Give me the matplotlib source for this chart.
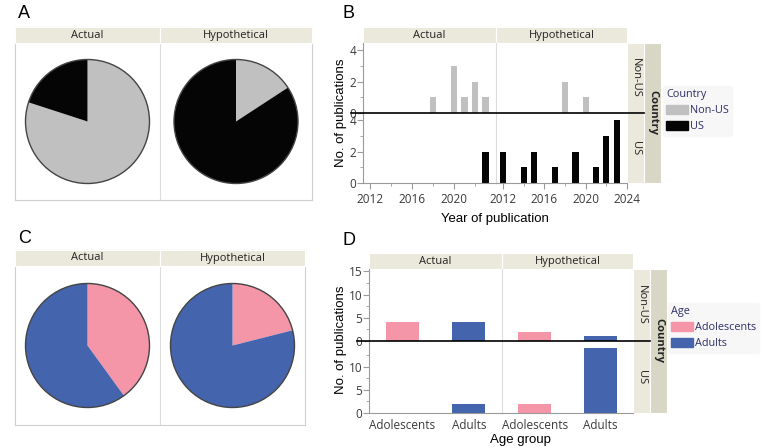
import matplotlib.pyplot as plt
from matplotlib.lines import Line2D
from matplotlib.patches import Circle, Patch

# Publications per year, by scenario and country
years_actual_nonus = [2018, 2020, 2021, 2022, 2023]
counts_actual_nonus = [1, 3, 1, 2, 1]
years_actual_us = [2023]
counts_actual_us = [2]
years_hyp_nonus = [2018, 2020]
counts_hyp_nonus = [2, 1]
years_hyp_us = [2012, 2014, 2015, 2017, 2019, 2021, 2022, 2023]
counts_hyp_us = [2, 1, 2, 1, 2, 1, 3, 4]

# Publications by age group (Adolescents, Adults)
age_groups = ["Adolescents", "Adults"]
age_actual_nonus = [4, 4]
age_actual_us = [0, 2]
age_hyp_nonus = [2, 1]
age_hyp_us = [2, 14]

scenarios = ["Actual", "Hypothetical"]
countries = ["Non-US", "US"]

GREY, BLACK = "#c0c0c0", "#050505"
PINK, BLUE = "#f495a8", "#4464ae"
STRIP, STRIP2 = "#ebe9dc", "#d8d6c4"
TICK_C = "#3a3a3a"
LEG_C = "#2e2f66"

plt.rcParams["font.family"] = ["Open Sans", "DejaVu Sans"]

W, H = 762, 448
fig = plt.figure(figsize=(W / 100, H / 100), dpi=100)


def box(x0, y0, x1, y1):
    return [x0 / W, 1 - y1 / H, (x1 - x0) / W, (y1 - y0) / H]


def strip(x0, y0, x1, y1, text, rot=0, bold=False, color=STRIP):
    ax = fig.add_axes(box(x0, y0, x1, y1))
    ax.set_facecolor(color)
    ax.set_xticks([])
    ax.set_yticks([])
    for s in ax.spines.values():
        s.set_color("white")
        s.set_linewidth(0.8)
    ax.text(0.5, 0.5, text, ha="center", va="center", rotation=rot,
            fontsize=8, fontweight="bold" if bold else "normal",
            color="#222222", transform=ax.transAxes)
    return ax


def pie_panel(x0, y0, x1, y1, xmid, values, colors):
    # frame
    frame = fig.add_axes(box(x0, y0, x1, y1))
    frame.set_xticks([])
    frame.set_yticks([])
    for s in frame.spines.values():
        s.set_color("#cfcfcf")
    strip(x0, y0, xmid, y0 + 16, scenarios[0])
    strip(xmid, y0, x1, y0 + 16, scenarios[1])
    for i, vals in enumerate(values):
        lx0, lx1 = (x0, xmid) if i == 0 else (xmid, x1)
        ax = fig.add_axes(box(lx0, y0 + 16, lx1, y1))
        ax.patch.set_alpha(0)
        ax.pie(vals, colors=colors, startangle=90, counterclock=False,
               radius=1, wedgeprops={"linewidth": 0})
        ax.add_patch(Circle((0, 0), 1, fill=False, edgecolor="#444444", lw=1))
        w = (lx1 - lx0) / 2 / 62
        h = (y1 - y0 - 16) / 2 / 62
        ax.set_xlim(-w, w)
        ax.set_ylim(-h, h)
        ax.set_aspect("equal")
        ax.axis("off")
        if i == 1:
            frame.plot([(xmid - x0) / (x1 - x0)] * 2, [0, 1], color="#dddddd",
                       lw=0.8, transform=frame.transAxes)


def facet_grid(left, right, top, bottom, draw, ylim, yticks, yminor,
               yticks_bottom):
    mid = (left + right) / 2 + 1
    ymid = (top + 16 + bottom) / 2
    strip(left, top, mid, top + 16, scenarios[0])
    strip(mid, top, right, top + 16, scenarios[1])
    strip(right, top + 16, right + 17, ymid, countries[0], rot=-90)
    strip(right, ymid, right + 17, bottom, countries[1], rot=-90)
    strip(right + 17, top + 16, right + 34, bottom, "Country", rot=-90,
          bold=True, color=STRIP2)
    for r, (ya, yb) in enumerate([(top + 16, ymid), (ymid, bottom)]):
        for c, (xa, xb) in enumerate([(left, mid), (mid, right)]):
            ax = fig.add_axes(box(xa, ya, xb, yb))
            for s in ["top", "right"]:
                ax.spines[s].set_visible(False)
            ax.spines["left"].set_color("#9a9a9a" if c == 0 else "#dddddd")
            ax.spines["bottom"].set_color("#9a9a9a")
            if r == 0:
                ax.spines["bottom"].set_visible(False)
            ax.set_ylim(*ylim)
            ax.set_yticks(yticks if r == 0 else yticks_bottom)
            ax.set_yticks(yminor, minor=True)
            ax.tick_params(axis="both", labelsize=8.5, colors="#9a9a9a",
                           labelcolor=TICK_C, length=4, pad=1)
            ax.tick_params(axis="x", pad=3)
            ax.tick_params(which="minor", length=2, colors="#9a9a9a")
            if c == 1:
                ax.tick_params(axis="y", which="both", left=False,
                               labelleft=False)
            draw(ax, r, c)
            if r == 0:
                ax.tick_params(axis="x", which="both", bottom=False,
                               labelbottom=False)
    fig.add_artist(Line2D([(left - 12) / W, (right + 17) / W],
                          [1 - ymid / H] * 2, color="black", lw=1.2))


def legend(handles, title, x, y):
    leg = fig.legend(handles=handles, title=title, loc="upper left",
                     bbox_to_anchor=(x / W, 1 - y / H), frameon=True,
                     fontsize=7.8, title_fontsize=7.8, handlelength=2.0,
                     handleheight=0.9, handletextpad=0.15, labelspacing=0.45,
                     borderpad=0.3, borderaxespad=0, alignment="left")
    leg.get_frame().set_facecolor("#f6f6f6")
    leg.get_frame().set_edgecolor("#f6f6f6")
    leg.get_title().set_color(LEG_C)
    for t in leg.get_texts():
        t.set_color(LEG_C)
    return leg


# ---------------- A ----------------
fig.text(18 / W, 1 - 13 / H, "A", fontsize=13, family="Liberation Sans",
         ha="left", va="center")
pie_panel(15, 27, 312, 200, 160,
          [[sum(counts_actual_nonus), sum(counts_actual_us)],
           [sum(counts_hyp_nonus), sum(counts_hyp_us)]],
          [GREY, BLACK])

# ---------------- C ----------------
fig.text(18 / W, 1 - 238 / H, "C", fontsize=13, family="Liberation Sans",
         ha="left", va="center")
pie_panel(15, 250, 305, 425, 160,
          [[age_actual_nonus[0] + age_actual_us[0],
            age_actual_nonus[1] + age_actual_us[1]],
           [age_hyp_nonus[0] + age_hyp_us[0],
            age_hyp_nonus[1] + age_hyp_us[1]]],
          [PINK, BLUE])

# ---------------- B ----------------
year_data = {
    (0, 0): (years_actual_nonus, counts_actual_nonus, GREY),
    (0, 1): (years_hyp_nonus, counts_hyp_nonus, GREY),
    (1, 0): (years_actual_us, counts_actual_us, BLACK),
    (1, 1): (years_hyp_us, counts_hyp_us, BLACK),
}


def draw_years(ax, r, c):
    yrs, cnt, col = year_data[(r, c)]
    ax.bar(yrs, cnt, width=0.6, color=col)
    ax.set_xlim(2011.3, 2024.0)
    ax.set_xticks([2012, 2016, 2020] if c == 0 else [2012, 2016, 2020, 2024])
    ax.set_xticks(range(2014, 2024, 4), minor=True)


fig.text(349 / W, 1 - 13 / H, "B", fontsize=13, family="Liberation Sans",
         ha="center", va="center")
facet_grid(363, 627, 27, 183, draw_years, (0, 4.45), [0, 2, 4], [1, 3],
           [0, 2, 4])
fig.text(495 / W, 1 - 219 / H, "Year of publication", fontsize=9.5,
         family="Liberation Sans", ha="center", va="center")
fig.text(341 / W, 1 - 113 / H, "No. of publications", fontsize=9.5,
         family="Liberation Sans", ha="center", va="center", rotation=90)

legend([Patch(color=GREY, label=countries[0]),
        Patch(color=BLACK, label=countries[1])], "Country", 663, 86)

# ---------------- D ----------------
age_data = {
    (0, 0): age_actual_nonus,
    (0, 1): age_hyp_nonus,
    (1, 0): age_actual_us,
    (1, 1): age_hyp_us,
}


def draw_ages(ax, r, c):
    ax.bar(range(len(age_groups)), age_data[(r, c)], width=0.5,
           color=[PINK, BLUE])
    ax.set_xlim(-0.5, 1.5)
    ax.set_xticks(range(len(age_groups)))
    ax.set_xticklabels(age_groups)
    ax.tick_params(axis="x", length=0, pad=4)


fig.text(349 / W, 1 - 240 / H, "D", fontsize=13, family="Liberation Sans",
         ha="center", va="center")
facet_grid(369, 633, 253, 413, draw_ages, (0, 15.5), [0, 5, 10, 15],
           [2.5, 7.5, 12.5], [0, 5, 10])
fig.text(520 / W, 1 - 440 / H, "Age group", fontsize=9.5,
         family="Liberation Sans", ha="center", va="center")
fig.text(341 / W, 1 - 340 / H, "No. of publications", fontsize=9.5,
         family="Liberation Sans", ha="center", va="center", rotation=90)

legend([Patch(color=PINK, label=age_groups[0]),
        Patch(color=BLUE, label=age_groups[1])], "Age", 668, 303)

fig.savefig("out.png", dpi=100)
